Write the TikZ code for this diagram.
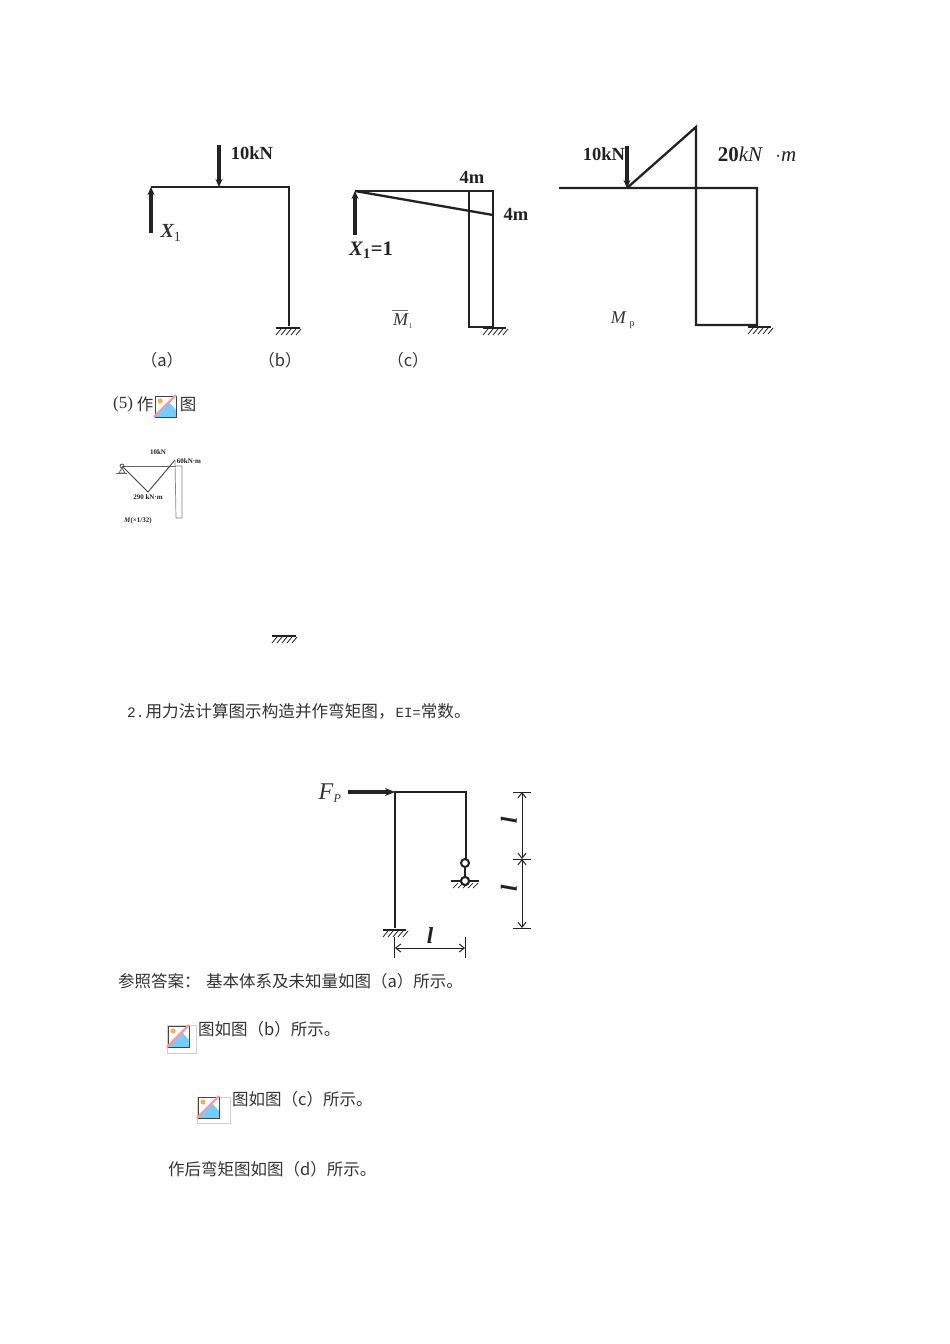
\documentclass[tikz,border=0pt]{standalone}
\usepackage{fontspec}
\setmainfont{Liberation Serif}
\newfontfamily\cjk{Noto Sans CJK SC}
\newfontfamily\mono{Liberation Mono}
\usetikzlibrary{arrows.meta}
\definecolor{ink}{HTML}{222222}
\definecolor{txt}{HTML}{333333}
\tikzset{
  x=1pt,y=-1pt,
  member/.style={draw=ink,line width=2.3pt,line join=miter},
  thin member/.style={draw=ink,line width=1.8pt},
  load/.style={draw=ink,line width=3.2pt,-{Stealth[length=8pt,width=7pt]}},
  lab/.style={inner sep=0pt,text=ink,font=\fontsize{18.5}{18.5}\selectfont\bfseries},
  ilab/.style={inner sep=0pt,text=txt,font=\fontsize{19}{19}\selectfont\itshape},
  captext/.style={inner sep=0pt,text=txt,font=\cjk\fontsize{16.5}{16.5}\selectfont},
  tinytext/.style={inner sep=0pt,text=ink,font=\fontsize{7}{7}\selectfont\bfseries},
  dimline/.style={draw=ink,line width=1pt,{Straight Barb[length=5pt,width=8pt]}-{Straight Barb[length=5pt,width=8pt]}},
  tickline/.style={draw=ink,line width=1pt},
  iconpic/.pic={
    \fill[white] (0,0) rectangle (21,21);
    \fill[blue!35!cyan!55] (1,20) -- (14,6) -- (21,14) -- (21,21) -- (1,21) -- cycle;
    \fill[orange!65] (5,5) circle (2.6);
    \draw[ink!85,line width=1pt] (0,0) rectangle (21,21);
    \draw[red!40,line width=2.4pt] (-1,21) -- (21,-1);
  }
}
\newcommand{\hatchground}[3]{%
  \draw[ink,line width=2.5pt] (#1,#3) -- (#2,#3);
  \foreach \hx in {0,5,...,20}{\draw[ink,line width=.8pt] ({#1+\hx+5},{#3+1}) -- ({#1+\hx},{#3+7});}
}
\begin{document}
\begin{tikzpicture}
\useasboundingbox (0,0) rectangle (950,1344);
\fill[white] (0,0) rectangle (950,1344);

% --- frame (a)
\coordinate (aL) at (151,187); \coordinate (aR) at (289,187); \coordinate (aB) at (289,326);
\coordinate (aXs) at (151,233); \coordinate (aPs) at (219,145); \coordinate (aP) at (219,187);
\draw[member] (aL) -- (aR) -- (aB);
\draw[load] (aXs) -- (aL);
\draw[load] (aPs) -- (aP);
\hatchground{276}{300}{328}
\node[lab] (a10) at (252,153) {10kN};
\node[ilab,font=\fontsize{20}{20}\selectfont\bfseries\itshape] (aX) at (171,233) {X\textsubscript{\normalfont 1}};

% --- frame (b)
\coordinate (bL) at (355,191); \coordinate (bI) at (469,191); \coordinate (bR) at (493,191);
\coordinate (bE) at (493,215); \coordinate (bB) at (493,327); \coordinate (bIB) at (469,327);
\coordinate (bXs) at (355,235);
\draw[member] (bL) -- (bR) -- (bB) -- (bIB) -- (bI);
\draw[member] (bL) -- (bE);
\draw[load] (bXs) -- (bL);
\hatchground{483}{506}{328}
\node[lab] (b4a) at (472,177) {4m};
\node[lab] (b4b) at (516,214) {4m};
\node[lab,font=\fontsize{20.5}{20.5}\selectfont\bfseries] (bX) at (371,250) {\textit{X}\textsubscript{1}=1};
\node[inner sep=0pt,text=txt] (bM) at (403,321) {\fontsize{18}{18}\selectfont\textit{M}\textsubscript{\fontsize{7}{7}\selectfont 1}};
\coordinate (bMa) at (392,310); \coordinate (bMb) at (408,310);
\draw[txt!70,line width=.7pt] (bMa) -- (bMb);

% --- frame (c)
\coordinate (cL) at (559,188); \coordinate (cP) at (627,188); \coordinate (cT) at (696,127);
\coordinate (cJ) at (696,188); \coordinate (cR) at (757,188); \coordinate (cBR) at (757,325);
\coordinate (cBL) at (696,325); \coordinate (cPs) at (627,146);
\draw[member] (cL) -- (cR) -- (cBR) -- (cBL) -- (cT) -- (cP);
\draw[load] (cPs) -- (cP);
\hatchground{748}{771}{327}
\node[lab] (c10) at (604,154) {10kN};
\node[inner sep=0pt,text=ink] (c20) at (757,154) {\fontsize{21}{21}\selectfont\textbf{20}\textit{kN}\,\, $\cdot$\textit{m}};
\node[inner sep=0pt,text=txt] (cM) at (623,320) {\fontsize{18}{18}\selectfont\textit{M}\,\textsubscript{\fontsize{10}{10}\selectfont p}};

% --- captions
\node[captext] (capa) at (162,360) {（a）};
\node[captext] (capb) at (280,360) {（b）};
\node[captext] (capc) at (408,360) {（c）};

% --- (5)
\node[inner sep=0pt,anchor=west,text=txt,font=\fontsize{17}{17}\selectfont] (five) at (113,404.5) {(5)};
\node[captext] (fivez) at (145,404.5) {作};
\pic at (155,396) {iconpic};
\node[captext] (fivet) at (188,404.5) {图};

% --- small moment diagram
\coordinate (mL) at (122,466); \coordinate (mR) at (176,466); \coordinate (mB) at (148,492); \coordinate (mT) at (175,460);
\coordinate (rTR) at (182,466); \coordinate (rBR) at (182,518); \coordinate (rBL) at (176,518);
\draw[draw=ink!70,line width=.6pt] (mL) -- (mR);
\draw[draw=ink!85,line width=.9pt] (mL) -- (mB) -- (mT);
\draw[draw=ink!55,line width=.7pt] (mT) -- (rBL) -- (rBR) -- (rTR) -- (mR);
\draw[draw=ink!80,line width=.8pt] (122,466) circle (2);
\draw[draw=ink!70,line width=.8pt] (122,468) -- (119,473) -- (125,473) -- cycle;
\draw[draw=ink!70,line width=1pt] (116,473.5) -- (127,473.5);
\node[tinytext] (m10) at (158,452) {10kN};
\node[tinytext] (m60) at (189,461) {60kN·m};
\node[tinytext] (m290) at (148,497) {290 kN·m};
\node[tinytext] (mM) at (138,520.5) {\textit{M}(×1/32)};

% --- stray ground
\hatchground{272}{296}{636}

% --- heading
\node[inner sep=0pt,anchor=west,text=txt] (q2) at (127,711.5) {\mono\fontsize{14.5}{14.5}\selectfont 2.\hspace{1pt}\cjk\fontsize{16.6}{16.6}\selectfont 用力法计算图示构造并作弯矩图，\hspace{1pt}\mono\fontsize{14}{14}\selectfont EI=\cjk\fontsize{16.6}{16.6}\selectfont 常数。};

% --- frame F_P
\coordinate (fL) at (395,792); \coordinate (fR) at (466,792); \coordinate (fB) at (395,928);
\coordinate (fS) at (466,863); \coordinate (fPs) at (348,792);
\draw[thin member] (fB) -- (fL) -- (fR) -- (fS);
\draw[draw=ink,line width=3.2pt,-{Stealth[length=10pt,width=8pt]}] (fPs) -- (fL);
\node[inner sep=1pt,circle,draw=ink,line width=2pt,fill=white,minimum size=8pt] (h1) at (465,863) {};
\node[inner sep=1pt,circle,draw=ink,line width=2pt,fill=white,minimum size=8pt] (h2) at (465,881) {};
\draw[thin member] (h1) -- (h2);
\draw[ink,line width=1.6pt] (451,881) -- (479,881);
\node[inner sep=1pt,circle,draw=ink,line width=2pt,fill=white,minimum size=8pt] at (h2) {};
\foreach \hx in {453,458,...,473}{\draw[ink,line width=.7pt] ({\hx+5},883) -- (\hx,888);}
\hatchground{383}{406}{930}
\node[inner sep=0pt,text=txt] (fp) at (330,793) {\fontsize{24}{24}\selectfont\textit{F}\textsubscript{\fontsize{12}{12}\selectfont\textit{P}}};

% --- dimensions
\coordinate (dA) at (395,948); \coordinate (dB) at (465,948);
\draw[tickline] (394.5,937) -- (394.5,958);
\draw[tickline] (465.5,937) -- (465.5,958);
\draw[dimline] (dA) -- (dB);
\node[inner sep=0pt,text=ink] (l1) at (430,936) {\fontsize{23}{23}\selectfont\bfseries\itshape l};
\coordinate (vA) at (522,792); \coordinate (vB) at (522,859); \coordinate (vC) at (522,928);
\draw[tickline] (513,792) -- (531,792);
\draw[tickline] (513,859) -- (531,859);
\draw[tickline] (513,928) -- (531,928);
\draw[dimline] (vA) -- (vB);
\draw[dimline] (vB) -- (vC);
\node[inner sep=0pt,text=ink,rotate=90] (l2) at (509,820) {\fontsize{23}{23}\selectfont\bfseries\itshape l};
\node[inner sep=0pt,text=ink,rotate=90] (l3) at (509,888) {\fontsize{23}{23}\selectfont\bfseries\itshape l};

% --- answer text
\node[captext,anchor=west] (ans1) at (118,981) {参照答案：\hspace{5.5pt}基本体系及未知量如图（a）所示。};
\draw[black!18,line width=.7pt] (167,1025) rectangle (196,1053);
\pic at (168,1026) {iconpic};
\node[captext,anchor=west] (ans2) at (198,1029) {图如图（b）所示。};
\draw[black!18,line width=.7pt] (197,1097) rectangle (230,1123);
\pic at (198,1097) {iconpic};
\node[captext,anchor=west] (ans3) at (232,1099) {图如图（c）所示。};
\node[captext,anchor=west] (ans4) at (168,1169) {作后弯矩图如图（d）所示。};
\end{tikzpicture}
\end{document}
